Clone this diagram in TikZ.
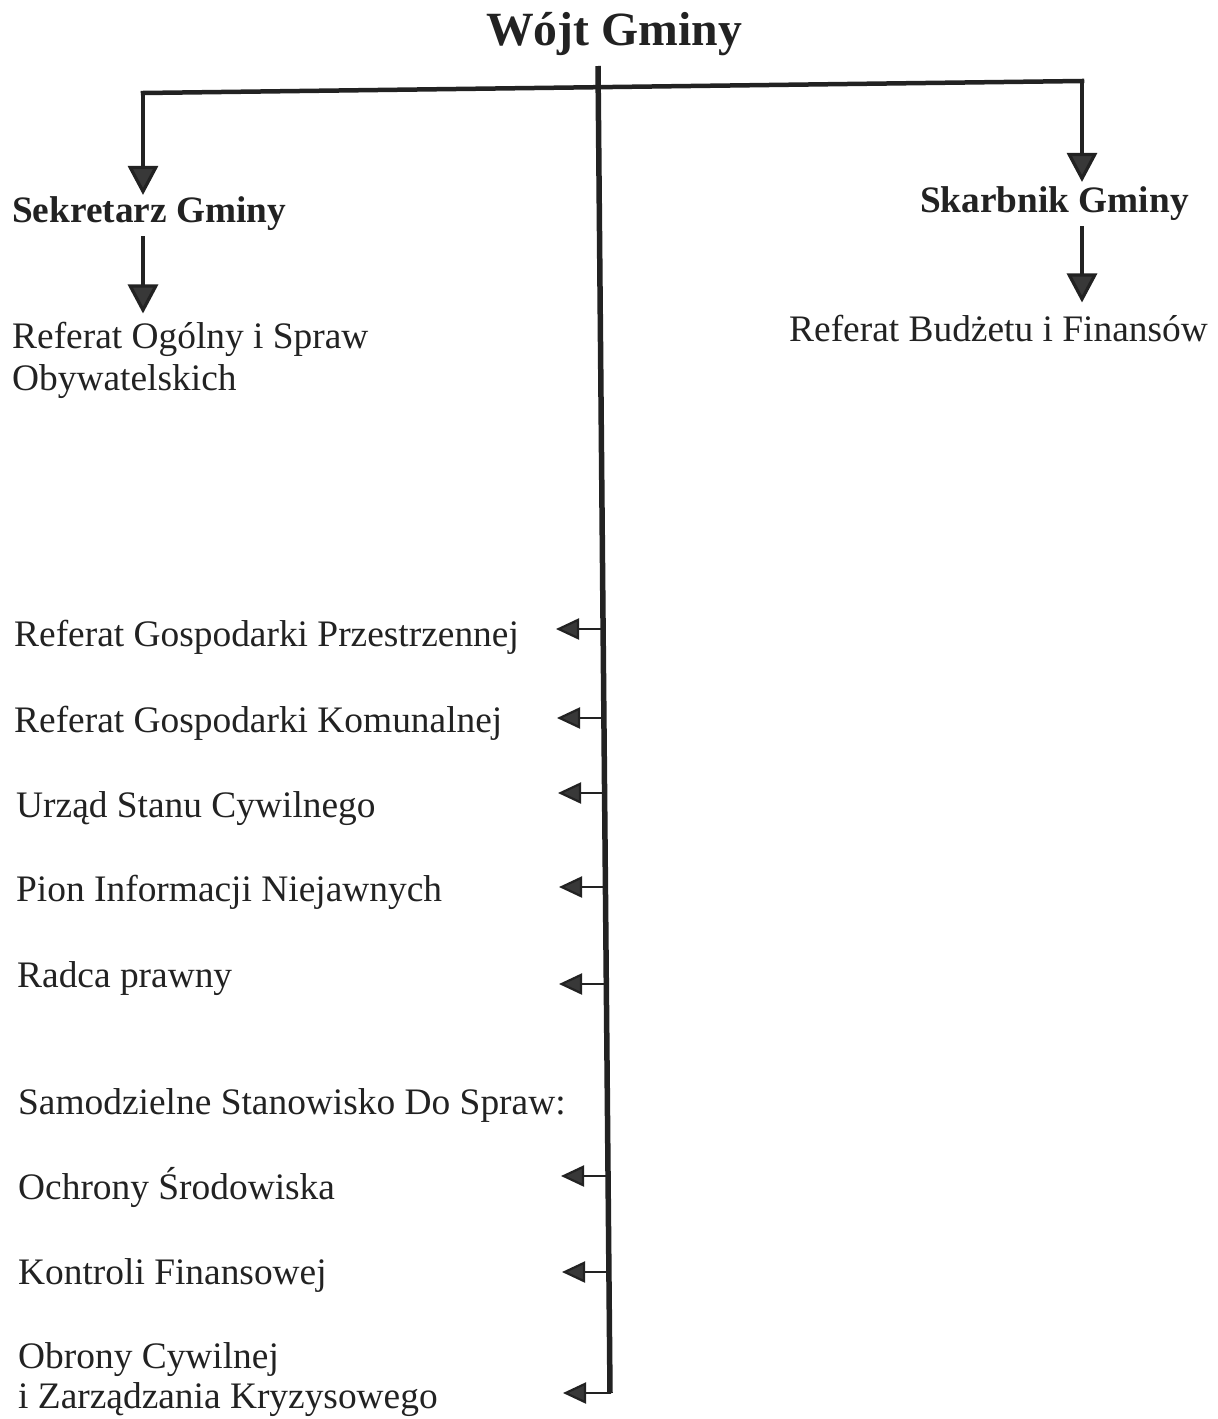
\documentclass[tikz,border=0pt]{standalone}
\usepackage{fontspec}
\setmainfont{Liberation Serif}
\usetikzlibrary{arrows.meta}
\definecolor{ink}{HTML}{222222}
\definecolor{tipc}{HTML}{383838}
\newcommand{\twolines}[2]{\vtop{\hbox{#1}\hbox{#2}}}
\begin{document}
\begin{tikzpicture}[x=1pt,y=-1pt,
  lbl/.style={anchor=base west, inner sep=0pt, font=\fontsize{37.4}{42}\selectfont, text=ink},
  lbltight/.style={lbl, font=\fontsize{37.4}{40}\selectfont},
  head/.style={anchor=base west, inner sep=0pt, font=\fontsize{37.3}{44}\selectfont\bfseries, text=ink},
  bigarrow/.style={draw=ink, line width=3.2pt, -{Triangle[length=29pt,width=30pt,fill=tipc]}},
  sidearrow/.style={draw=ink, line width=2.2pt, -{Triangle[length=23pt,width=21pt,fill=tipc]}},
  trunkline/.style={draw=ink, line width=5.5pt},
]
\useasboundingbox (0,0) rectangle (1218,1419);
\fill[white] (0,0) rectangle (1218,1419);

% title
\node[anchor=base, inner sep=0pt, font=\fontsize{47.7}{52}\selectfont\bfseries, text=ink] (wojt) at (614,45) {Wójt Gminy};

% heads
\node[head] (sek) at (12,222) {Sekretarz Gminy};
\node[head] (skarb) at (920,212) {Skarbnik Gminy};

% labels
\node[lbl] (rogol) at (12,348) {\twolines{Referat Ogólny i Spraw}{Obywatelskich}};
\node[lbl] (rbud) at (789,341) {Referat Budżetu i Finansów};
\node[lbl] (rgp) at (14,646) {Referat Gospodarki Przestrzennej};
\node[lbl] (rgk) at (14,732) {Referat Gospodarki Komunalnej};
\node[lbl] (usc) at (16,817) {Urząd Stanu Cywilnego};
\node[lbl] (pin) at (16,901) {Pion Informacji Niejawnych};
\node[lbl] (rp) at (17,987) {Radca prawny};
\node[lbl] (ssd) at (18,1114) {Samodzielne Stanowisko Do Spraw:};
\node[lbl] (os) at (18,1199) {Ochrony Środowiska};
\node[lbl] (kf) at (18,1284) {Kontroli Finansowej};
\node[lbltight] (oc) at (18,1368) {\twolines{Obrony Cywilnej}{i Zarządzania Kryzysowego}};

% trunk and bar
\coordinate (ttop) at (598,66);
\coordinate (tbot) at (610,1393);
\coordinate (bl) at (143,93);
\coordinate (br) at (1082,81);
\draw[trunkline] (ttop) -- (tbot);
\draw[draw=ink, line width=4.5pt, line cap=rect] (bl) -- (br);

% top branches
\draw[bigarrow] (bl) -- ([yshift=1pt]bl |- sek.north);
\draw[bigarrow] (br) -- ([yshift=4pt]br |- skarb.north);
\draw[bigarrow] ([yshift=-6pt]sek.south -| bl) -- ([yshift=8pt]rogol.north -| bl);
\draw[bigarrow] ([yshift=-6pt]skarb.south -| br) -- ([yshift=12pt]rbud.north -| br);

% side arrows from trunk
\coordinate (s1) at (603.1,629);  \coordinate (t1) at (556,629);
\coordinate (s2) at (603.9,718);  \coordinate (t2) at (557,718);
\coordinate (s3) at (604.6,793);  \coordinate (t3) at (558,793);
\coordinate (s4) at (605.4,887);  \coordinate (t4) at (559,887);
\coordinate (s5) at (606.3,984);  \coordinate (t5) at (559,984);
\coordinate (s6) at (608.0,1176); \coordinate (t6) at (561,1176);
\coordinate (s7) at (608.9,1272); \coordinate (t7) at (562,1272);
\coordinate (s8) at (611,1393);   \coordinate (t8) at (563,1393);
\foreach \i in {1,...,8} { \draw[sidearrow] (s\i) -- (t\i); }
\end{tikzpicture}
\end{document}
